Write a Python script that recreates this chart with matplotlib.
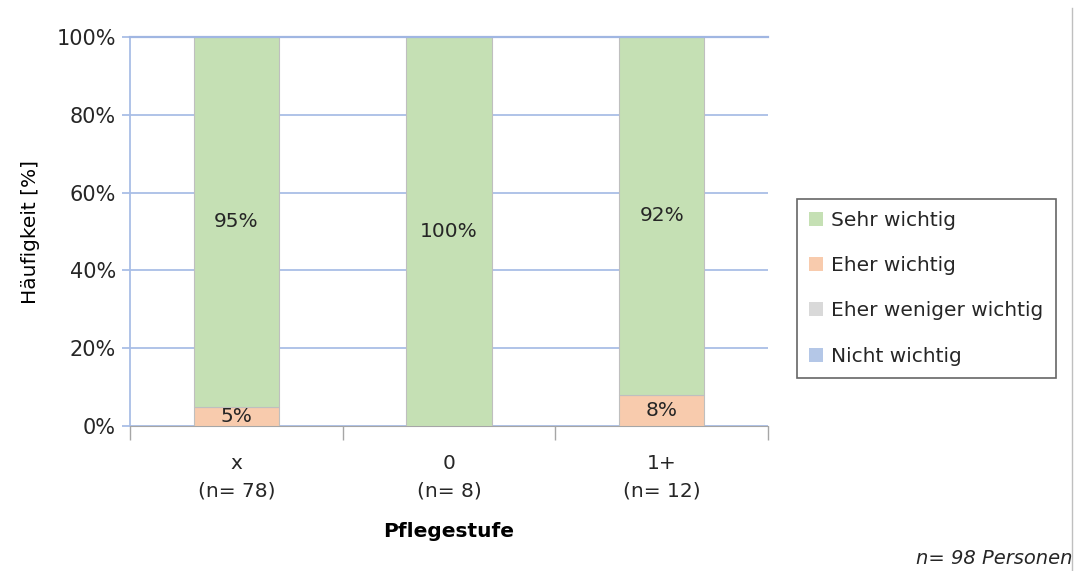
import numpy as np
import matplotlib.pyplot as plt
from matplotlib.patches import Patch
from matplotlib.lines import Line2D

plt.rcParams['font.family'] = ['DejaVu Sans']

categories = ['x\n(n= 78)', '0\n(n= 8)', '1+\n(n= 12)']
sehr_wichtig = [95, 100, 92]
eher_wichtig = [5, 0, 8]
eher_weniger = [0, 0, 0]
nicht_wichtig = [0, 0, 0]

series = [
    ('Nicht wichtig', nicht_wichtig, '#b4c7e7'),
    ('Eher weniger wichtig', eher_weniger, '#d9d9d9'),
    ('Eher wichtig', eher_wichtig, '#f8cbad'),
    ('Sehr wichtig', sehr_wichtig, '#c5e0b4'),
]

fig = plt.figure(figsize=(10.81, 5.71), dpi=100)
ax = fig.add_axes([130 / 1081, 1 - 426 / 571, 638 / 1081, 389 / 571])

x = np.arange(len(categories))
bottom = np.zeros(len(categories))
for name, vals, col in series:
    vals = np.array(vals, dtype=float)
    ax.bar(x, vals, width=0.4, bottom=bottom, color=col, edgecolor='#bfbfbf',
           linewidth=0.8, zorder=3)
    for xi, b, v in zip(x, bottom, vals):
        if v > 0:
            ax.text(xi, b + v / 2, f'{v:.0f}%', ha='center', va='center',
                    fontsize=14.5, color='#262626', zorder=4)
    bottom += vals

ax.set_xlim(-0.5, 2.5)
ax.set_ylim(0, 100)
ax.set_yticks(np.arange(0, 101, 20))
ax.set_yticklabels([f'{v}%' for v in range(0, 101, 20)], fontsize=15, color='#262626')
ax.yaxis.grid(True, color='#a9bee6', linewidth=1.3, zorder=0)
ax.axhline(100, color='#a0b6e2', linewidth=1.6, zorder=5, clip_on=False)
ax.tick_params(axis='y', length=6, color='#a9bee6', width=1.3, pad=4)

ax.set_xticks(x)
ax.set_xticklabels(categories, fontsize=14.5, color='#262626', linespacing=1.55)
ax.set_xticks([-0.5, 0.5, 1.5, 2.5], minor=True)
ax.tick_params(axis='x', which='major', length=0, pad=20)
ax.tick_params(axis='x', which='minor', length=10, color='#a6a6a6', width=1)

for s in ['top', 'right']:
    ax.spines[s].set_visible(False)
ax.spines['left'].set_color('#a9bee6')
ax.spines['left'].set_linewidth(1.3)
ax.spines['bottom'].set_color('#a6a6a6')

ax.set_ylabel('Häufigkeit [%]', fontsize=14.5, color='#000000', labelpad=12)
ax.set_xlabel('Pflegestufe', fontsize=14.5, fontweight='bold', labelpad=16)

handles = [Patch(facecolor=c, edgecolor='none', label=n) for n, v, c in reversed(series)]
leg = fig.legend(handles=handles, loc='upper left',
                 bbox_to_anchor=(797 / 1081, 1 - 199 / 571),
                 fontsize=14.5, frameon=True, fancybox=False,
                 handlelength=0.7, handleheight=0.7, handletextpad=0.4,
                 labelspacing=1.3, borderpad=0.6, borderaxespad=0)
leg.get_frame().set_edgecolor('#404040')
leg.get_frame().set_linewidth(1.2)
for t in leg.get_texts():
    t.set_color('#262626')

fig.text(1072 / 1081, 1 - 564 / 571, 'n= 98 Personen', ha='right', va='baseline',
         fontsize=14, style='italic', color='#262626')
fig.add_artist(Line2D([1072 / 1081] * 2, [0, 1 - 8 / 571], color='#bfbfbf',
                      linewidth=1, transform=fig.transFigure))

fig.savefig('out.png', dpi=100)
